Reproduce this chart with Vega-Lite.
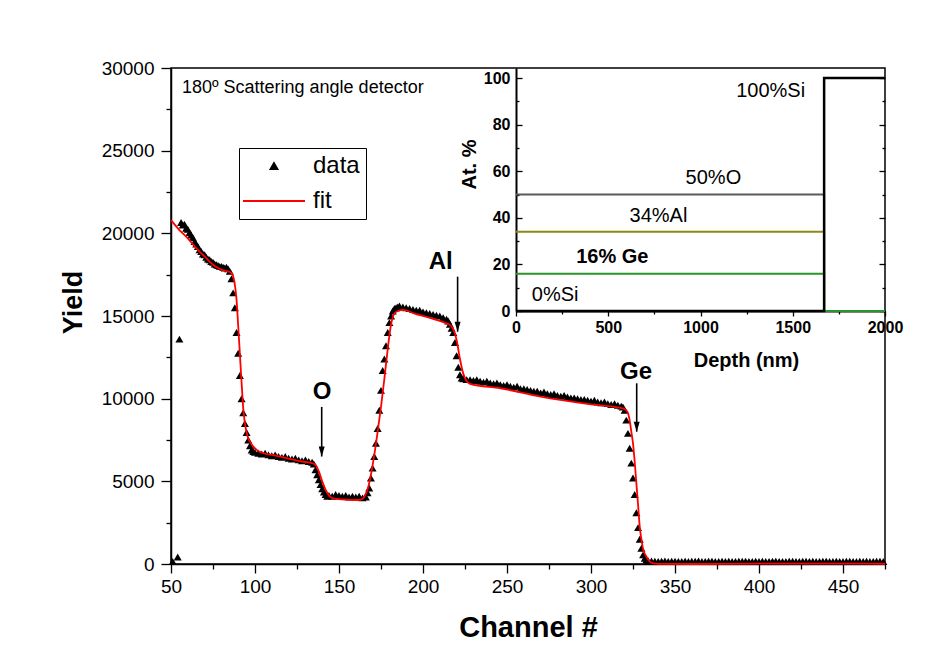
{
  "$schema": "https://vega.github.io/schema/vega-lite/v6.json",
  "width": 714,
  "height": 496,
  "autosize": {"type": "none"},
  "padding": {"left": 171, "top": 68, "right": 63, "bottom": 90},
  "background": "white",
  "config": {
    "font": "Liberation Sans",
    "view": {"stroke": "black", "strokeWidth": 1.5},
    "axis": {
      "grid": false,
      "domainColor": "black",
      "domainWidth": 1.5,
      "tickColor": "black",
      "tickWidth": 1.3,
      "labelColor": "black",
      "titleColor": "black",
      "labelFont": "Liberation Sans",
      "titleFont": "Liberation Sans",
      "labelFlush": false,
      "labelOverlap": false
    },
    "legend": {
      "title": null,
      "orient": "none",
      "legendX": 68,
      "legendY": 80,
      "direction": "vertical",
      "strokeColor": "black",
      "fillColor": "white",
      "padding": 6,
      "labelFontSize": 24,
      "labelColor": "black",
      "labelFont": "Liberation Sans",
      "symbolSize": 49,
      "symbolStrokeWidth": 1.8,
      "symbolOffset": 17,
      "labelOffset": 27,
      "rowPadding": 11
    }
  },
  "datasets": {
    "spectrum": [
      {"channel": 51, "yield": 150}, {"channel": 54, "yield": 420}, {"channel": 55, "yield": 13600},
      {"channel": 56, "yield": 20650}, {"channel": 57, "yield": 20500}, {"channel": 58, "yield": 20550}, {"channel": 59, "yield": 20300},
      {"channel": 60, "yield": 20250}, {"channel": 61, "yield": 20050}, {"channel": 62, "yield": 19900}, {"channel": 63, "yield": 19750},
      {"channel": 64, "yield": 19500}, {"channel": 65, "yield": 19350}, {"channel": 66, "yield": 19200}, {"channel": 67, "yield": 19000},
      {"channel": 68, "yield": 18900}, {"channel": 69, "yield": 18750}, {"channel": 70, "yield": 18700}, {"channel": 71, "yield": 18550},
      {"channel": 72, "yield": 18450}, {"channel": 73, "yield": 18400}, {"channel": 74, "yield": 18300}, {"channel": 75, "yield": 18250},
      {"channel": 76, "yield": 18150}, {"channel": 77, "yield": 18100}, {"channel": 78, "yield": 18050}, {"channel": 79, "yield": 18000},
      {"channel": 80, "yield": 18000}, {"channel": 81, "yield": 17950}, {"channel": 82, "yield": 17900}, {"channel": 83, "yield": 17950},
      {"channel": 84, "yield": 17850}, {"channel": 85, "yield": 17700}, {"channel": 86, "yield": 17250}, {"channel": 87, "yield": 16400},
      {"channel": 88, "yield": 15500}, {"channel": 89, "yield": 14000}, {"channel": 90, "yield": 12750}, {"channel": 91, "yield": 11400},
      {"channel": 92, "yield": 10000}, {"channel": 93, "yield": 9150}, {"channel": 94, "yield": 8500}, {"channel": 95, "yield": 7950},
      {"channel": 96, "yield": 7500}, {"channel": 97, "yield": 7150}, {"channel": 98, "yield": 6900}, {"channel": 99, "yield": 6800},
      {"channel": 100, "yield": 6750}, {"channel": 102, "yield": 6700}, {"channel": 104, "yield": 6650}, {"channel": 106, "yield": 6700},
      {"channel": 108, "yield": 6600}, {"channel": 110, "yield": 6550}, {"channel": 112, "yield": 6600}, {"channel": 114, "yield": 6500},
      {"channel": 116, "yield": 6450}, {"channel": 118, "yield": 6500}, {"channel": 120, "yield": 6400}, {"channel": 122, "yield": 6350},
      {"channel": 124, "yield": 6400}, {"channel": 126, "yield": 6300}, {"channel": 128, "yield": 6250}, {"channel": 130, "yield": 6300},
      {"channel": 132, "yield": 6200}, {"channel": 134, "yield": 6150}, {"channel": 135, "yield": 6050}, {"channel": 136, "yield": 5700},
      {"channel": 137, "yield": 5400}, {"channel": 138, "yield": 5100}, {"channel": 139, "yield": 4800}, {"channel": 140, "yield": 4550},
      {"channel": 141, "yield": 4350}, {"channel": 142, "yield": 4200}, {"channel": 143, "yield": 4100}, {"channel": 144, "yield": 4150},
      {"channel": 146, "yield": 4100}, {"channel": 148, "yield": 4200}, {"channel": 150, "yield": 4150}, {"channel": 152, "yield": 4100},
      {"channel": 154, "yield": 4150}, {"channel": 156, "yield": 4050}, {"channel": 158, "yield": 4100}, {"channel": 160, "yield": 4050},
      {"channel": 162, "yield": 4100}, {"channel": 164, "yield": 4000}, {"channel": 166, "yield": 4050}, {"channel": 167, "yield": 4300},
      {"channel": 168, "yield": 4600}, {"channel": 169, "yield": 5200}, {"channel": 170, "yield": 5800}, {"channel": 171, "yield": 6500},
      {"channel": 172, "yield": 7300}, {"channel": 173, "yield": 8200}, {"channel": 174, "yield": 9300}, {"channel": 175, "yield": 10500},
      {"channel": 176, "yield": 11700}, {"channel": 177, "yield": 12400}, {"channel": 178, "yield": 13200}, {"channel": 179, "yield": 14000},
      {"channel": 180, "yield": 14600}, {"channel": 181, "yield": 15000}, {"channel": 182, "yield": 15300}, {"channel": 183, "yield": 15450},
      {"channel": 184, "yield": 15500}, {"channel": 185, "yield": 15550}, {"channel": 186, "yield": 15600}, {"channel": 188, "yield": 15550},
      {"channel": 190, "yield": 15500}, {"channel": 192, "yield": 15450}, {"channel": 194, "yield": 15400}, {"channel": 196, "yield": 15350},
      {"channel": 198, "yield": 15350}, {"channel": 200, "yield": 15250}, {"channel": 202, "yield": 15200}, {"channel": 204, "yield": 15150},
      {"channel": 206, "yield": 15100}, {"channel": 208, "yield": 15050}, {"channel": 210, "yield": 15000}, {"channel": 212, "yield": 14900},
      {"channel": 214, "yield": 14800}, {"channel": 215, "yield": 14700}, {"channel": 216, "yield": 14500}, {"channel": 217, "yield": 14250},
      {"channel": 218, "yield": 14000}, {"channel": 219, "yield": 13400}, {"channel": 220, "yield": 12600}, {"channel": 221, "yield": 11900},
      {"channel": 222, "yield": 11450}, {"channel": 223, "yield": 11250}, {"channel": 224, "yield": 11200}, {"channel": 226, "yield": 11150},
      {"channel": 228, "yield": 11150}, {"channel": 230, "yield": 11100}, {"channel": 232, "yield": 11150}, {"channel": 234, "yield": 11050},
      {"channel": 236, "yield": 11000}, {"channel": 238, "yield": 11050}, {"channel": 240, "yield": 10950}, {"channel": 242, "yield": 10900},
      {"channel": 244, "yield": 10950}, {"channel": 246, "yield": 10850}, {"channel": 248, "yield": 10800}, {"channel": 250, "yield": 10850},
      {"channel": 252, "yield": 10750}, {"channel": 254, "yield": 10700}, {"channel": 256, "yield": 10750}, {"channel": 258, "yield": 10600},
      {"channel": 260, "yield": 10600}, {"channel": 262, "yield": 10550}, {"channel": 264, "yield": 10500}, {"channel": 266, "yield": 10450},
      {"channel": 268, "yield": 10450}, {"channel": 270, "yield": 10350}, {"channel": 272, "yield": 10400}, {"channel": 274, "yield": 10300},
      {"channel": 276, "yield": 10250}, {"channel": 278, "yield": 10300}, {"channel": 280, "yield": 10200}, {"channel": 282, "yield": 10150},
      {"channel": 284, "yield": 10200}, {"channel": 286, "yield": 10100}, {"channel": 288, "yield": 10050}, {"channel": 290, "yield": 10050},
      {"channel": 292, "yield": 10000}, {"channel": 294, "yield": 9950}, {"channel": 296, "yield": 9950}, {"channel": 298, "yield": 9900},
      {"channel": 300, "yield": 9850}, {"channel": 302, "yield": 9900}, {"channel": 304, "yield": 9800}, {"channel": 306, "yield": 9750},
      {"channel": 308, "yield": 9800}, {"channel": 310, "yield": 9700}, {"channel": 312, "yield": 9650}, {"channel": 314, "yield": 9700},
      {"channel": 316, "yield": 9600}, {"channel": 318, "yield": 9550}, {"channel": 319, "yield": 9500}, {"channel": 320, "yield": 9300},
      {"channel": 321, "yield": 8700}, {"channel": 322, "yield": 7900}, {"channel": 323, "yield": 7000}, {"channel": 324, "yield": 6100},
      {"channel": 325, "yield": 5200}, {"channel": 326, "yield": 4200}, {"channel": 327, "yield": 3100}, {"channel": 328, "yield": 2200},
      {"channel": 329, "yield": 1500}, {"channel": 330, "yield": 950}, {"channel": 331, "yield": 550}, {"channel": 332, "yield": 350},
      {"channel": 333, "yield": 250}, {"channel": 334, "yield": 200}, {"channel": 336, "yield": 180}, {"channel": 338, "yield": 170},
      {"channel": 340, "yield": 160}, {"channel": 342, "yield": 175}, {"channel": 344, "yield": 180}, {"channel": 346, "yield": 150},
      {"channel": 348, "yield": 165}, {"channel": 350, "yield": 170}, {"channel": 352, "yield": 160}, {"channel": 354, "yield": 155},
      {"channel": 356, "yield": 175}, {"channel": 358, "yield": 150}, {"channel": 360, "yield": 165}, {"channel": 362, "yield": 170},
      {"channel": 364, "yield": 180}, {"channel": 366, "yield": 155}, {"channel": 368, "yield": 160}, {"channel": 370, "yield": 165},
      {"channel": 372, "yield": 175}, {"channel": 374, "yield": 150}, {"channel": 376, "yield": 160}, {"channel": 378, "yield": 165},
      {"channel": 380, "yield": 160}, {"channel": 382, "yield": 170}, {"channel": 384, "yield": 155}, {"channel": 386, "yield": 150},
      {"channel": 388, "yield": 165}, {"channel": 390, "yield": 170}, {"channel": 392, "yield": 175}, {"channel": 394, "yield": 160},
      {"channel": 396, "yield": 155}, {"channel": 398, "yield": 165}, {"channel": 400, "yield": 160}, {"channel": 402, "yield": 170},
      {"channel": 404, "yield": 150}, {"channel": 406, "yield": 160}, {"channel": 408, "yield": 165}, {"channel": 410, "yield": 175},
      {"channel": 412, "yield": 160}, {"channel": 414, "yield": 155}, {"channel": 416, "yield": 150}, {"channel": 418, "yield": 165},
      {"channel": 420, "yield": 170}, {"channel": 422, "yield": 160}, {"channel": 424, "yield": 155}, {"channel": 426, "yield": 165},
      {"channel": 428, "yield": 170}, {"channel": 430, "yield": 160}, {"channel": 432, "yield": 165}, {"channel": 434, "yield": 150},
      {"channel": 436, "yield": 160}, {"channel": 438, "yield": 170}, {"channel": 440, "yield": 175}, {"channel": 442, "yield": 155},
      {"channel": 444, "yield": 160}, {"channel": 446, "yield": 165}, {"channel": 448, "yield": 160}, {"channel": 450, "yield": 150},
      {"channel": 452, "yield": 165}, {"channel": 454, "yield": 170}, {"channel": 456, "yield": 160}, {"channel": 458, "yield": 155},
      {"channel": 460, "yield": 165}, {"channel": 462, "yield": 160}, {"channel": 464, "yield": 170}, {"channel": 466, "yield": 155},
      {"channel": 468, "yield": 160}, {"channel": 470, "yield": 165}, {"channel": 472, "yield": 170}, {"channel": 474, "yield": 155}
    ],
    "fit": [
      {"channel": 50, "yield": 20800}, {"channel": 55, "yield": 20200}, {"channel": 60, "yield": 19700}, {"channel": 65, "yield": 19100},
      {"channel": 70, "yield": 18600}, {"channel": 75, "yield": 18100}, {"channel": 80, "yield": 17800}, {"channel": 84, "yield": 17700},
      {"channel": 86, "yield": 17600}, {"channel": 87, "yield": 17400}, {"channel": 88, "yield": 16900}, {"channel": 89, "yield": 16000},
      {"channel": 90, "yield": 14400}, {"channel": 91, "yield": 12700}, {"channel": 92, "yield": 11000}, {"channel": 93, "yield": 9400},
      {"channel": 94, "yield": 8500}, {"channel": 95, "yield": 7950}, {"channel": 96, "yield": 7600}, {"channel": 97, "yield": 7400},
      {"channel": 99, "yield": 7100}, {"channel": 101, "yield": 6900}, {"channel": 105, "yield": 6700}, {"channel": 111, "yield": 6580},
      {"channel": 120, "yield": 6380}, {"channel": 128, "yield": 6200}, {"channel": 134, "yield": 6100}, {"channel": 136, "yield": 6000},
      {"channel": 138, "yield": 5600}, {"channel": 140, "yield": 5000}, {"channel": 142, "yield": 4500}, {"channel": 144, "yield": 4150},
      {"channel": 146, "yield": 3980}, {"channel": 150, "yield": 3920}, {"channel": 155, "yield": 3890}, {"channel": 160, "yield": 3870},
      {"channel": 163, "yield": 3900}, {"channel": 165, "yield": 4050}, {"channel": 167, "yield": 4500}, {"channel": 169, "yield": 5400},
      {"channel": 171, "yield": 6600}, {"channel": 173, "yield": 8000}, {"channel": 175, "yield": 9500}, {"channel": 177, "yield": 11200},
      {"channel": 179, "yield": 13000}, {"channel": 181, "yield": 14500}, {"channel": 183, "yield": 15150}, {"channel": 185, "yield": 15300},
      {"channel": 188, "yield": 15370}, {"channel": 195, "yield": 15150}, {"channel": 205, "yield": 14850}, {"channel": 214, "yield": 14550},
      {"channel": 216, "yield": 14460}, {"channel": 218, "yield": 14200}, {"channel": 220, "yield": 13550}, {"channel": 222, "yield": 12400},
      {"channel": 224, "yield": 11500}, {"channel": 226, "yield": 11050}, {"channel": 228, "yield": 10900}, {"channel": 246, "yield": 10630},
      {"channel": 270, "yield": 10120}, {"channel": 300, "yield": 9650}, {"channel": 319, "yield": 9420}, {"channel": 321, "yield": 9300},
      {"channel": 322, "yield": 9130}, {"channel": 323, "yield": 8700}, {"channel": 324, "yield": 8000}, {"channel": 325, "yield": 7300},
      {"channel": 326, "yield": 6200}, {"channel": 327, "yield": 4900}, {"channel": 328, "yield": 3600}, {"channel": 329, "yield": 2260},
      {"channel": 330, "yield": 1500}, {"channel": 331, "yield": 900}, {"channel": 333, "yield": 440}, {"channel": 335, "yield": 150},
      {"channel": 337, "yield": 40}, {"channel": 340, "yield": 10}, {"channel": 360, "yield": 0}, {"channel": 400, "yield": 20},
      {"channel": 440, "yield": 20}, {"channel": 475, "yield": 15}
    ],
    "arrows": [
      {"element": "O", "channel": 139.7, "from": 9500, "to": 6500, "labelChannel": 140, "labelYield": 10420},
      {"element": "Al", "channel": 220.6, "from": 17380, "to": 14050, "labelChannel": 210.5, "labelYield": 18290},
      {"element": "Ge", "channel": 327.2, "from": 10930, "to": 8000, "labelChannel": 326.8, "labelYield": 11630}
    ],
    "profile": [
      {"element": "O", "depth": 0, "pct": 50}, {"element": "O", "depth": 1670, "pct": 0}, {"element": "O", "depth": 2000, "pct": 0},
      {"element": "Al", "depth": 0, "pct": 34}, {"element": "Al", "depth": 1670, "pct": 0}, {"element": "Al", "depth": 2000, "pct": 0},
      {"element": "Ge", "depth": 0, "pct": 16}, {"element": "Ge", "depth": 1670, "pct": 0}, {"element": "Ge", "depth": 2000, "pct": 0},
      {"element": "Si", "depth": 0, "pct": 0}, {"element": "Si", "depth": 1670, "pct": 100}, {"element": "Si", "depth": 2000, "pct": 100}
    ],
    "profileLabels": [
      {"text": "100%Si", "depth": 1380, "pct": 94.5},
      {"text": "50%O", "depth": 1070, "pct": 57},
      {"text": "34%Al", "depth": 772, "pct": 40.8},
      {"text": "16% Ge", "depth": 522, "pct": 23.2},
      {"text": "0%Si", "depth": 212, "pct": 6.9}
    ]
  },
  "resolve": {"scale": {"x": "independent", "y": "independent"}},
  "layer": [
    {
      "layer": [
        {
          "data": {"name": "spectrum"},
          "mark": {"type": "point", "filled": true, "size": 64, "opacity": 1},
          "encoding": {
            "x": {
              "field": "channel", "type": "quantitative",
              "scale": {"domain": [50, 475], "nice": false, "zero": false},
              "axis": {
                "orient": "bottom",
                "values": [50, 75, 100, 125, 150, 175, 200, 225, 250, 275, 300, 325, 350, 375, 400, 425, 450, 475],
                "format": "d",
                "labelExpr": "datum.value % 50 === 0 ? datum.label : ''",
                "tickSize": {"condition": {"test": "datum.value % 50 === 0", "value": 9}, "value": 5},
                "labelFontSize": 19,
                "labelPadding": 4,
                "title": "Channel #",
                "titleFontSize": 29,
                "titleFontWeight": "bold",
                "titlePadding": 17
              }
            },
            "y": {
              "field": "yield", "type": "quantitative",
              "scale": {"domain": [0, 30000], "nice": false},
              "axis": {
                "orient": "left",
                "values": [0, 2500, 5000, 7500, 10000, 12500, 15000, 17500, 20000, 22500, 25000, 27500, 30000],
                "format": "d",
                "labelExpr": "datum.value % 5000 === 0 ? datum.label : ''",
                "tickSize": {"condition": {"test": "datum.value % 5000 === 0", "value": 10}, "value": 5},
                "labelFontSize": 19,
                "labelPadding": 7,
                "title": "Yield",
                "titleFontSize": 27,
                "titleFontWeight": "bold",
                "titlePadding": 14,
                "titleY": 234,
                "titleAlign": "center"
              }
            },
            "color": {
              "datum": "data", "type": "nominal",
              "scale": {"domain": ["data", "fit"], "range": ["black", "red"]}
            },
            "shape": {
              "datum": "data", "type": "nominal",
              "scale": {"domain": ["data", "fit"], "range": ["triangle-up", "M-8.86,0L8.86,0"]}
            }
          }
        },
        {
          "data": {"name": "fit"},
          "mark": {"type": "line", "interpolate": "monotone", "strokeWidth": 1.8},
          "encoding": {
            "x": {"field": "channel", "type": "quantitative"},
            "y": {"field": "yield", "type": "quantitative"},
            "color": {"datum": "fit", "type": "nominal"}
          }
        },
        {
          "data": {"name": "arrows"},
          "mark": {"type": "rule", "color": "black", "strokeWidth": 1.6},
          "encoding": {
            "x": {"field": "channel", "type": "quantitative"},
            "y": {"field": "from", "type": "quantitative"},
            "y2": {"field": "to"}
          }
        },
        {
          "data": {"name": "arrows"},
          "mark": {"type": "point", "shape": "M-1.2,-4L1.2,-4L0,0Z", "filled": true, "size": 25, "color": "black", "opacity": 1},
          "encoding": {
            "x": {"field": "channel", "type": "quantitative"},
            "y": {"field": "to", "type": "quantitative"}
          }
        },
        {
          "data": {"name": "arrows"},
          "mark": {"type": "text", "fontSize": 24, "fontWeight": "bold", "color": "black", "align": "center", "baseline": "middle"},
          "encoding": {
            "x": {"field": "labelChannel", "type": "quantitative"},
            "y": {"field": "labelYield", "type": "quantitative"},
            "text": {"field": "element"}
          }
        },
        {
          "data": {"values": [{"note": "180º Scattering angle detector"}]},
          "mark": {"type": "text", "fontSize": 18, "color": "black", "align": "left", "baseline": "middle"},
          "encoding": {
            "x": {"datum": 56.5, "type": "quantitative"},
            "y": {"datum": 28800, "type": "quantitative"},
            "text": {"field": "note"}
          }
        }
      ]
    },
    {
      "resolve": {"axis": {"y": "independent"}},
      "layer": [
        {
          "data": {"name": "profile"},
          "transform": [{"filter": "datum.element === 'O'"}],
          "mark": {"type": "line", "interpolate": "step-after", "color": "#5a5a5a", "strokeWidth": 2},
          "encoding": {
            "x": {
              "field": "depth", "type": "quantitative",
              "scale": {"domain": [0, 2000], "range": [345, 714], "nice": false, "zero": false},
              "axis": {
                "orient": "bottom",
                "offset": -253,
                "values": [0, 250, 500, 750, 1000, 1250, 1500, 1750, 2000],
                "format": "d",
                "labelExpr": "datum.value % 500 === 0 ? datum.label : ''",
                "tickSize": {"condition": {"test": "datum.value % 500 === 0", "value": 5}, "value": 3},
                "labelFontSize": 16,
                "labelFontWeight": "bold",
                "labelPadding": 3,
                "domainWidth": 2,
                "title": "Depth (nm)",
                "titleFontSize": 20,
                "titleFontWeight": "bold",
                "titleX": 575,
                "titleY": 49,
                "titleAlign": "center",
                "titleBaseline": "middle"
              }
            },
            "y": {
              "field": "pct", "type": "quantitative",
              "scale": {"domain": [0, 104.3], "range": [243, 0], "nice": false, "zero": false},
              "axis": {
                "orient": "left",
                "offset": -345,
                "values": [0, 10, 20, 30, 40, 50, 60, 70, 80, 90, 100],
                "labelExpr": "datum.value % 20 === 0 ? datum.label : ''",
                "tickSize": {"condition": {"test": "datum.value % 20 === 0", "value": -6}, "value": -3},
                "labelFontSize": 16,
                "labelFontWeight": "bold",
                "labelPadding": 12,
                "domainWidth": 2,
                "title": "At. %",
                "titleFontSize": 20,
                "titleFontWeight": "bold",
                "titleX": -47,
                "titleY": 96,
                "titleAlign": "center",
                "titleBaseline": "middle"
              }
            }
          }
        },
        {
          "data": {"name": "profile"},
          "transform": [{"filter": "datum.element === 'Al'"}],
          "mark": {"type": "line", "interpolate": "step-after", "color": "#8a8a14", "strokeWidth": 2},
          "encoding": {
            "x": {"field": "depth", "type": "quantitative"},
            "y": {"field": "pct", "type": "quantitative", "axis": null}
          }
        },
        {
          "data": {"name": "profile"},
          "transform": [{"filter": "datum.element === 'Ge'"}],
          "mark": {"type": "line", "interpolate": "step-after", "color": "#2a962a", "strokeWidth": 2},
          "encoding": {
            "x": {"field": "depth", "type": "quantitative"},
            "y": {"field": "pct", "type": "quantitative", "axis": null}
          }
        },
        {
          "data": {"name": "profile"},
          "transform": [{"filter": "datum.element === 'Si'"}],
          "mark": {"type": "line", "interpolate": "step-after", "color": "black", "strokeWidth": 2.5},
          "encoding": {
            "x": {"field": "depth", "type": "quantitative"},
            "y": {
              "field": "pct", "type": "quantitative",
              "axis": {
                "orient": "right",
                "values": [0, 10, 20, 30, 40, 50, 60, 70, 80, 90, 100],
                "labels": false,
                "domain": false,
                "title": null,
                "tickSize": {"condition": {"test": "datum.value % 20 === 0", "value": -6}, "value": -3}
              }
            }
          }
        },
        {
          "data": {"name": "profileLabels"},
          "transform": [{"filter": "datum.text !== '16% Ge'"}],
          "mark": {"type": "text", "fontSize": 20, "color": "black", "align": "center", "baseline": "middle"},
          "encoding": {
            "x": {"field": "depth", "type": "quantitative"},
            "y": {"field": "pct", "type": "quantitative", "axis": null},
            "text": {"field": "text"}
          }
        },
        {
          "data": {"name": "profileLabels"},
          "transform": [{"filter": "datum.text === '16% Ge'"}],
          "mark": {"type": "text", "fontSize": 20, "fontWeight": "bold", "color": "black", "align": "center", "baseline": "middle"},
          "encoding": {
            "x": {"field": "depth", "type": "quantitative"},
            "y": {"field": "pct", "type": "quantitative", "axis": null},
            "text": {"field": "text"}
          }
        }
      ]
    }
  ]
}
